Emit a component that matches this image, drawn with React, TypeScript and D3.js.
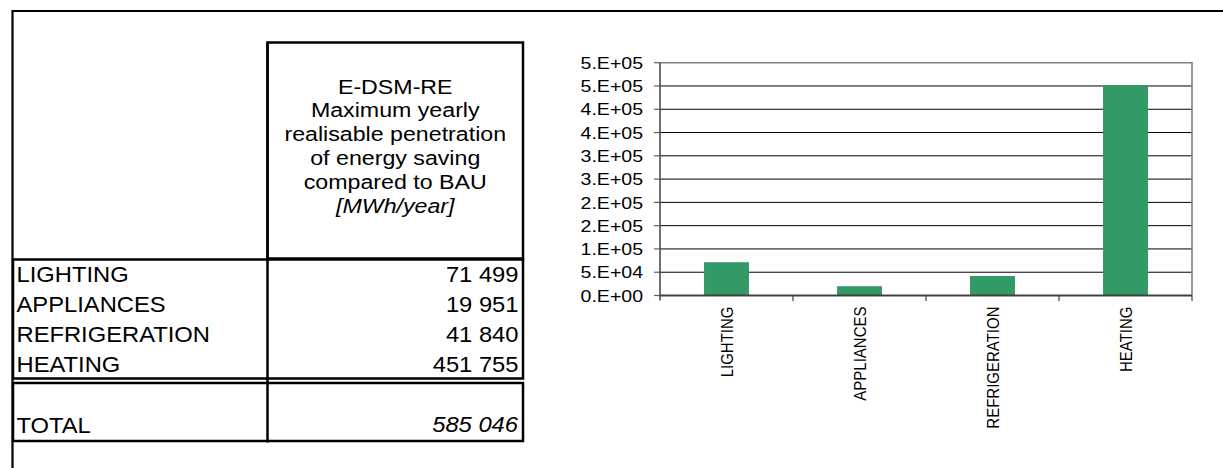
import React, { useEffect, useRef } from 'react';
import * as d3 from 'd3';

const categories = ['LIGHTING', 'APPLIANCES', 'REFRIGERATION', 'HEATING'];
const savings = [71499, 19951, 41840, 451755];
const totalSaving = 585046;
const headerLines = [
  'E-DSM-RE',
  'Maximum yearly',
  'realisable penetration',
  'of energy saving',
  'compared to BAU',
  '[MWh/year]',
];
const yTicks = [0, 50000, 100000, 150000, 200000, 250000, 300000, 350000, 400000, 450000, 500000];

const FONT = '"Liberation Sans", Arial, sans-serif';

// Excel style "0.E+00" (half rounds up)
const excelExp = (v: number) => {
  if (v === 0) return '0.E+00';
  let e = Math.floor(Math.log10(v));
  let m = Math.round(v / Math.pow(10, e));
  if (m >= 10) { m = 1; e += 1; }
  return `${m}.E+${String(e).padStart(2, '0')}`;
};

const spaced = (v: number) => d3.format(',')(v).replace(/,/g, ' ');

const App: React.FC = () => {
  const svgRef = useRef<SVGSVGElement>(null);

  useEffect(() => {
    if (!svgRef.current) return;
    const svg = d3.select(svgRef.current);
    svg.selectAll('*').remove();

    // outer frame (top + left only)
    svg.append('line').attr('x1', 12).attr('x2', 1223).attr('y1', 11).attr('y2', 11)
      .attr('stroke', '#000').attr('stroke-width', 2.2);
    svg.append('line').attr('x1', 12.5).attr('x2', 12.5).attr('y1', 10).attr('y2', 468)
      .attr('stroke', '#000').attr('stroke-width', 2.2);

    // ---- table ----
    const tL = 13, tM = 267.5, tR = 523;
    const box = (x: number, y: number, w: number, h: number) =>
      svg.append('rect').attr('x', x).attr('y', y).attr('width', w).attr('height', h)
        .attr('fill', 'none').attr('stroke', '#000').attr('stroke-width', 2.5);
    box(tM, 42.5, tR - tM, 216);
    box(tL, 259.5, tR - tL, 119);
    box(tL, 383, tR - tL, 58);
    svg.append('line').attr('x1', tM).attr('x2', tM).attr('y1', 42.5).attr('y2', 442.5)
      .attr('stroke', '#000').attr('stroke-width', 2.5);

    const hdr = svg.append('g').attr('font-family', FONT).attr('font-size', 20).attr('fill', '#000');
    headerLines.forEach((t, i) => {
      hdr.append('text')
        .attr('transform', `translate(${(tM + tR) / 2},${93.5 + i * 23.8}) scale(1.16,1)`)
        .attr('text-anchor', 'middle')
        .attr('font-style', i === headerLines.length - 1 ? 'italic' : 'normal')
        .text(t);
    });

    const rows = svg.append('g').attr('font-family', FONT).attr('font-size', 22).attr('fill', '#000');
    categories.forEach((c, i) => {
      const y = 282 + i * 30.1;
      rows.append('text').attr('transform', `translate(16.5,${y}) scale(1.08,1)`).text(c);
      rows.append('text').attr('transform', `translate(518.5,${y}) scale(1.08,1)`)
        .attr('text-anchor', 'end').text(spaced(savings[i]));
    });
    rows.append('text').attr('transform', 'translate(16.5,433) scale(1.08,1)').text('TOTAL');
    rows.append('text').attr('transform', 'translate(518,432) scale(1.08,1)')
      .attr('text-anchor', 'end').attr('font-style', 'italic').text(spaced(totalSaving));

    // ---- chart ----
    const pL = 660, pR = 1192, pT = 62.7, pB = 295.5;
    const x = d3.scaleBand<string>().domain(categories).range([pL, pR])
      .paddingInner(0.662).paddingOuter(0.331);
    const y = d3.scaleLinear().domain([0, 500000]).range([pB, pT]);
    const step = x.step();

    const chart = svg.append('g');

    // gridlines
    chart.selectAll('.grid').data(yTicks.slice(1, -1)).join('line')
      .attr('x1', pL).attr('x2', pR).attr('y1', d => y(d)).attr('y2', d => y(d))
      .attr('stroke', '#000').attr('stroke-width', 1);

    // plot border (top, right)
    chart.append('path')
      .attr('d', `M${pL},${y(500000)}H${pR}V${pB}`)
      .attr('fill', 'none').attr('stroke', '#808080').attr('stroke-width', 1.6);

    // bars
    chart.selectAll('.bar').data(savings).join('rect')
      .attr('x', (d, i) => x(categories[i])!)
      .attr('width', x.bandwidth())
      .attr('y', d => y(d))
      .attr('height', d => pB - y(d))
      .attr('fill', '#339966');

    // y axis
    chart.append('line').attr('x1', pL).attr('x2', pL).attr('y1', pT).attr('y2', pB + 5)
      .attr('stroke', '#404040').attr('stroke-width', 1.5);
    chart.selectAll('.ytick').data(yTicks).join('line')
      .attr('x1', pL - 6).attr('x2', pL).attr('y1', d => y(d)).attr('y2', d => y(d))
      .attr('stroke', '#606060').attr('stroke-width', 1.2);
    chart.selectAll('.ylab').data(yTicks).join('text')
      .attr('transform', d => `translate(643,${y(d)}) scale(1.15,1)`)
      .attr('dy', '0.36em')
      .attr('text-anchor', 'end')
      .attr('font-family', FONT).attr('font-size', 17).attr('fill', '#000')
      .text(d => excelExp(d));

    // x axis
    chart.append('line').attr('x1', pL).attr('x2', pR).attr('y1', pB).attr('y2', pB)
      .attr('stroke', '#404040').attr('stroke-width', 1.8);
    chart.selectAll('.xtick').data(categories.slice(1).concat('end')).join('line')
      .attr('x1', (d, i) => pL + step * (i + 1)).attr('x2', (d, i) => pL + step * (i + 1))
      .attr('y1', pB).attr('y2', pB + 5.5)
      .attr('stroke', '#404040').attr('stroke-width', 1.2);
    chart.selectAll('.xlab').data(categories).join('text')
      .attr('transform', d => `translate(${x(d)! + x.bandwidth() / 2},306.5) scale(1.13,1) rotate(-90)`)
      .attr('dy', '0.36em')
      .attr('text-anchor', 'end')
      .attr('font-family', FONT).attr('font-size', 15).attr('fill', '#000')
      .text(d => d);
  }, []);

  return (
    <div style={{ position: 'absolute', left: 0, top: 0, background: '#fff' }}>
      <svg ref={svgRef} width={1223} height={468} style={{ display: 'block' }} />
    </div>
  );
};

export default App;
